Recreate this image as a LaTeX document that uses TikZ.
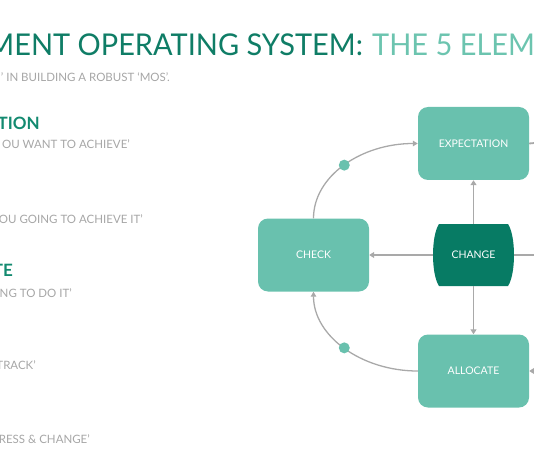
\documentclass[tikz,border=0pt]{standalone}
\usepackage{fontspec}
\setmainfont{Lato}
\usetikzlibrary{arrows.meta}
\definecolor{titledark}{HTML}{0F7D66}
\definecolor{titlelight}{HTML}{6CC4AF}
\definecolor{headgreen}{HTML}{138A70}
\definecolor{textgray}{HTML}{A6A6A6}
\definecolor{boxlight}{HTML}{69C1AE}
\definecolor{boxdark}{HTML}{077B64}
\definecolor{linegray}{HTML}{A9A9A9}
\begin{document}
\begin{tikzpicture}[x=1pt,y=-1pt,
  box/.style={fill=boxlight, rounded corners=10pt, minimum width=111pt, minimum height=73pt, text=white, font=\fontsize{10.5}{12}\selectfont, inner sep=0pt},
  conn/.style={draw=linegray, line width=1.8pt, -{Triangle[width=6pt,length=5pt]}},
  curveconn/.style={draw=linegray, line width=1.3pt, -{Triangle[width=5.5pt,length=5pt]}},
  plainline/.style={draw=linegray, line width=1.8pt},
  dotn/.style={circle, fill=boxlight, minimum size=11pt, inner sep=0pt},
  graytxt/.style={text=textgray, font=\fontsize{11.5}{13}\selectfont, anchor=base east, inner sep=0pt},
  headtxt/.style={text=headgreen, font=\bfseries\fontsize{17}{19}\selectfont, anchor=base east, inner sep=0pt}]
\useasboundingbox (0,0) rectangle (534,462);
\clip (0,0) rectangle (534,462);
% title
\node[anchor=base east, inner sep=0pt, text=titledark, font=\fontsize{30}{34}\selectfont] (t1) at (363,56) {\scalebox{0.965}[1]{MENT OPERATING SYSTEM:}};
\node[anchor=base west, inner sep=0pt, text=titlelight, font=\fontsize{30}{34}\selectfont] (t2) at (372,56) {\scalebox{0.965}[1]{THE 5 ELEMENTS}};
\node[anchor=base east, inner sep=0pt, text=textgray, font=\fontsize{11.5}{13}\selectfont] (sub) at (170,82) {’ IN BUILDING A ROBUST ‘MOS’.};
% left column
\node[headtxt] (h1) at (40,130) {TION};
\node[graytxt] (g1) at (130,149) {OU WANT TO ACHIEVE’};
\node[graytxt] (g2) at (143,223) {OU GOING TO ACHIEVE IT’};
\node[headtxt] (h2) at (13,276) {TE};
\node[graytxt] (g3) at (72,297) {NG TO DO IT’};
\node[graytxt] (g4) at (36,369) {TRACK’};
\node[graytxt] (g5) at (90,443) {RESS \& CHANGE’};
% diagram
\node[box] (expect) at (473.5,143.5) {EXPECTATION};
\node[box] (check) at (313.5,255) {CHECK};
\node[box] (alloc) at (473.5,371) {ALLOCATE};
\fill[boxdark] (439,224) -- (508,224) .. controls (516,236) and (516,274) .. (508,286) -- (439,286) .. controls (431,274) and (431,236) .. (439,224) -- cycle;
\node[minimum width=81pt, minimum height=62pt, inner sep=0pt, text=white, font=\fontsize{10.5}{12}\selectfont] (change) at (473.5,255) {CHANGE};
\draw[conn] (change.north) -- (expect.south);
\draw[conn] (change.south) -- (alloc.north);
\draw[conn] (change.west) -- (check.east);
\draw[curveconn] (check.north) .. controls +(0,-42) and +(-57,0) .. node[pos=0.5, dotn] (d1) {} (expect.west);
\draw[curveconn] (alloc.west) .. controls +(-57,0) and +(0,44) .. node[pos=0.5, dotn] (d2) {} (check.south);
\coordinate (r1) at (545,142);
\coordinate (r2) at (545,255);
\coordinate (r3) at (548,371);
\draw[plainline] (expect.east) -- (r1);
\draw[plainline] (change.east) -- (r2);
\draw[conn] (r3) -- (alloc.east);
\end{tikzpicture}
\end{document}
